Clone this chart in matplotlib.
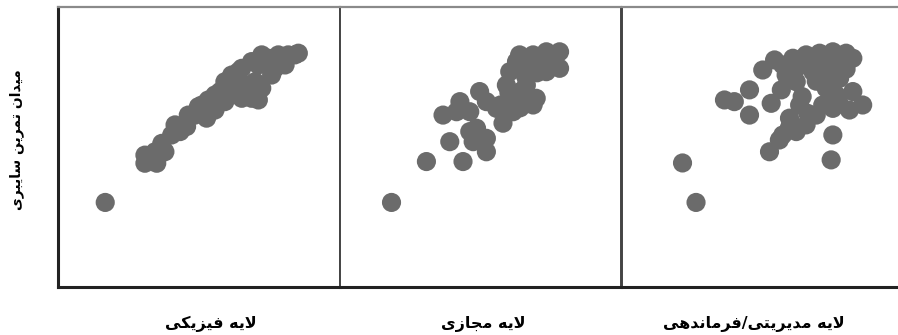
import matplotlib
matplotlib.use("Agg")
import matplotlib.pyplot as plt

# ---------------- data ----------------
categories = ["لایه فیزیکی", "لایه مجازی", "لایه مدیریتی/فرماندهی"]
y_title = "میدان تمرین سایبری"

phys_x = [16.6, 30.7, 30.7, 34.9, 34.3, 36.7, 40.2, 43.2, 41.4, 48.5, 49.7, 52.6, 53.2,
          55.6, 57.4, 59.1, 60.3, 62.7, 61.5, 63.9, 65.1, 68.6, 71.0, 66.3, 69.8, 72.2,
          71.0, 72.2, 74.5, 76.9, 78.1, 81.6, 84.0, 85.2, 80.5, 75.7, 65.1, 59.1, 55.6,
          50.9, 46.1, 45.5, 37.8, 68.6]
phys_y = [30.2, 47.1, 44.2, 44.2, 48.3, 51.3, 54.3, 55.5, 57.9, 61.4, 64.4, 60.3, 66.8,
          63.2, 69.8, 66.2, 69.8, 72.1, 75.7, 76.9, 67.4, 67.4, 66.8, 72.1, 73.3, 71.0,
          79.3, 82.9, 81.7, 78.1, 82.9, 82.9, 82.9, 83.5, 79.3, 75.7, 78.1, 73.3, 68.6,
          65.0, 61.4, 57.3, 48.3, 80.5]

virt_x = [18.3, 30.7, 39.0, 43.7, 52.0, 47.3, 52.0, 48.5, 57.9, 36.6, 42.6, 49.6, 52.0,
          55.6, 61.5, 62.7, 60.3, 59.1, 66.2, 69.7, 68.6, 63.8, 68.6, 73.3, 78.0, 78.0,
          73.3, 66.2, 46.1, 41.4, 46.1, 62.7, 71.0, 64.5, 57.0, 64.0, 60.0, 66.0, 70.0,
          75.0]
virt_y = [30.2, 44.8, 51.9, 44.8, 48.3, 51.9, 53.1, 56.7, 58.5, 61.4, 66.2, 69.8, 66.2,
          63.8, 62.6, 67.4, 76.9, 72.1, 72.1, 67.4, 65.0, 82.9, 82.9, 84.0, 84.0, 78.1,
          76.9, 78.1, 62.6, 62.6, 55.5, 80.5, 80.5, 70.0, 65.0, 64.0, 69.5, 75.0, 76.5,
          81.0]

cmd_x = [26.3, 21.5, 36.4, 39.9, 45.3, 45.3, 50.0, 54.2, 53.0, 56.6, 58.3, 60.7, 65.4,
         70.2, 74.9, 79.6, 82.0, 61.9, 63.1, 59.5, 61.9, 57.1, 52.4, 65.4, 72.5, 71.3,
         74.9, 72.5, 77.3, 79.6, 82.0, 85.5, 80.8, 76.1, 67.8, 66.6, 61.9, 74.9, 74.3,
         69.0, 76.1, 71.3, 57.1, 55.9, 59.5, 66.0, 64.0, 69.0, 77.0]
cmd_y = [30.2, 44.3, 66.8, 66.2, 70.4, 61.4, 77.5, 81.1, 65.6, 70.4, 75.7, 81.7, 82.9,
         83.5, 84.0, 83.5, 81.7, 73.3, 65.0, 60.3, 55.5, 54.3, 48.3, 57.9, 71.0, 65.0,
         63.8, 76.9, 74.5, 77.8, 69.8, 65.0, 63.2, 68.6, 76.9, 79.3, 78.1, 54.3, 45.4,
         61.4, 80.5, 80.5, 79.3, 52.5, 57.0, 62.0, 68.0, 73.5, 66.0]

series = [(phys_x, phys_y), (virt_x, virt_y), (cmd_x, cmd_y)]

# ------------- minimal Persian shaping for display -------------
_forms = {
    'ا': ('\uFE8D', '\uFE8E', None, None),
    'ب': ('\uFE8F', '\uFE90', '\uFE91', '\uFE92'),
    'ت': ('\uFE95', '\uFE96', '\uFE97', '\uFE98'),
    'ج': ('\uFE9D', '\uFE9E', '\uFE9F', '\uFEA0'),
    'د': ('\uFEA9', '\uFEAA', None, None),
    'ر': ('\uFEAD', '\uFEAE', None, None),
    'ز': ('\uFEAF', '\uFEB0', None, None),
    'س': ('\uFEB1', '\uFEB2', '\uFEB3', '\uFEB4'),
    'ف': ('\uFED1', '\uFED2', '\uFED3', '\uFED4'),
    'ک': ('\uFB8E', '\uFB8F', '\uFB90', '\uFB91'),
    'ل': ('\uFEDD', '\uFEDE', '\uFEDF', '\uFEE0'),
    'م': ('\uFEE1', '\uFEE2', '\uFEE3', '\uFEE4'),
    'ن': ('\uFEE5', '\uFEE6', '\uFEE7', '\uFEE8'),
    'ه': ('\uFEE9', '\uFEEA', '\uFEEB', '\uFEEC'),
    'ی': ('\uFBFC', '\uFBFD', '\uFBFE', '\uFBFF'),
}


def _joins_left(ch):
    return ch in _forms and _forms[ch][2] is not None


def shape(text):
    out = []
    chars = list(text)
    i = 0
    n = len(chars)
    while i < n:
        c = chars[i]
        prev = chars[i - 1] if i > 0 else None
        connect_prev = prev is not None and _joins_left(prev) and c in _forms
        if c == 'ل' and i + 1 < n and chars[i + 1] == 'ا':
            out.append('\uFEFC' if connect_prev else '\uFEFB')
            i += 2
            continue
        if c not in _forms:
            out.append(c)
            i += 1
            continue
        nxt = chars[i + 1] if i + 1 < n else None
        connect_next = _joins_left(c) and nxt is not None and nxt in _forms
        iso, fin, ini, med = _forms[c]
        if connect_prev and connect_next:
            out.append(med)
        elif connect_prev:
            out.append(fin)
        elif connect_next:
            out.append(ini)
        else:
            out.append(iso)
        i += 1
    return ''.join(reversed(out))


# ---------------- figure ----------------
W, H = 898, 335
fig = plt.figure(figsize=(W / 100, H / 100), dpi=100)

dot_color = "#6b6b6b"
ax_w = 281.5 / W
ax_b = (H - 287) / H
ax_h = (287 - 7) / H
lefts = [58.5 / W, 340 / W, 622 / W]
label_x = [211 / W, 483 / W, 754 / W]

for k, ((xs, ys), left) in enumerate(zip(series, lefts)):
    ax = fig.add_axes([left, ax_b, ax_w, ax_h])
    ax.scatter(xs, ys, s=190, color=dot_color, edgecolors="none", zorder=3)
    ax.set_xlim(0, 100)
    ax.set_ylim(0, 100)
    ax.set_xticks([])
    ax.set_yticks([])
    ax.spines["bottom"].set_linewidth(2.2)
    ax.spines["bottom"].set_color("#222222")
    ax.spines["top"].set_linewidth(1.6)
    ax.spines["top"].set_color("#8a8a8a")
    if k == 0:
        ax.spines["left"].set_linewidth(2.2)
        ax.spines["left"].set_color("#222222")
    else:
        ax.spines["left"].set_linewidth(1.4)
        ax.spines["left"].set_color("#444444")
    ax.spines["right"].set_linewidth(1.4)
    ax.spines["right"].set_color("#444444")
    fig.text(label_x[k], 1 - 324 / H, shape(categories[k]), ha="center", va="center",
             fontsize=11.5, fontweight="bold", family=["DejaVu Sans"])

fig.text(17 / W, 1 - 140 / H, shape(y_title), rotation=90, ha="center", va="center",
         fontsize=10, fontweight="bold", family=["DejaVu Sans"])

fig.savefig("out.png", dpi=100)
